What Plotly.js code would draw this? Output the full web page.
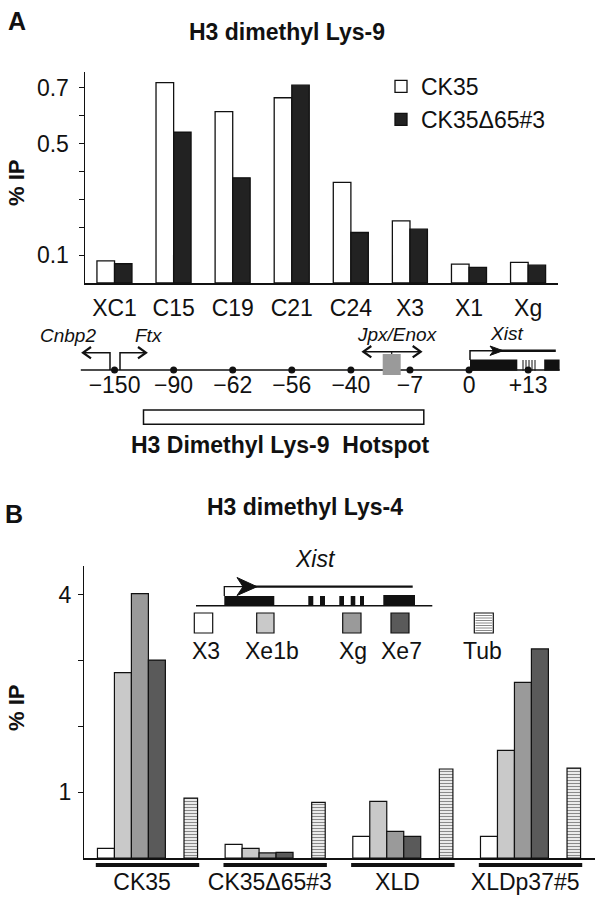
<!DOCTYPE html>
<html><head><meta charset="utf-8">
<script src="https://cdn.plot.ly/plotly-3.0.1.min.js"></script>
<style>html,body{margin:0;padding:0;background:#fff}</style>
</head><body><div id="chart" style="width:600px;height:903px"></div>
<script>
// ---------- Panel A data ----------
const catsA = ['XC1','C15','C19','C21','C24','X3','X1','Xg'];
const ck35A = [0.079,0.718,0.614,0.664,0.361,0.223,0.068,0.074];
const delA  = [0.069,0.541,0.377,0.709,0.181,0.193,0.056,0.064];
const seriesA = ['CK35','CK35\u039465#3'];
const mapLabels = ['\u2212150','\u221290','\u221262','\u221256','\u221240','\u22127','0','+13'];
const yTickValsA = [0.1,0.2,0.3,0.4,0.5,0.6,0.7];
const yTickTextA = ['0.1','','','','0.5','','0.7'];
// ---------- Panel B data ----------
const cellLines = ['CK35','CK35\u039465#3','XLD','XLDp37#5'];
const probes = ['X3','Xe1b','Xg','Xe7','Tub'];
const x3B   = [0.149,0.210,0.331,0.331];
const xe1bB = [2.82,0.149,0.863,1.638];
const xgB   = [4.02,0.078,0.407,2.672];
const xe7B  = [3.01,0.088,0.331,3.18];
const tubB  = [0.913,0.848,1.354,1.369];
const yTickValsB = [1,2,3,4];
const yTickTextB = ['1','','','4'];

const W=600,H=903;
const px=x=>x/W, py=y=>1-y/H;
const FONT='"Liberation Sans", Arial, Helvetica, sans-serif';
const INK='#111';

const traces=[];
// Panel A bars
traces.push({type:'bar',x:catsA,y:ck35A,name:seriesA[0],xaxis:'x',yaxis:'y',
  offset:-0.298,width:0.298,marker:{color:'#ffffff',line:{color:INK,width:1.3}},legendgroup:'a'});
traces.push({type:'bar',x:catsA,y:delA,name:seriesA[1],xaxis:'x',yaxis:'y',
  offset:0,width:0.295,marker:{color:'#222222',line:{color:INK,width:1.3}},legendgroup:'b'});
// Panel A map dots
traces.push({type:'scatter',x:catsA,y:catsA.map(()=>0),xaxis:'x',yaxis:'y3',mode:'markers+text',
  text:mapLabels,textposition:'bottom center',textfont:{size:23,color:INK},
  marker:{size:7,color:INK},showlegend:false,cliponaxis:false,hoverinfo:'skip'});
// Panel B bars
const seriesB=[x3B,xe1bB,xgB,xe7B,tubB];
const colB=['#ffffff','#c9c9c9','#9a9a9a','#5a5a5a','#ffffff'];
const offB=[-0.397,-0.264,-0.131,0.002,0.281];
const widB=[0.133,0.133,0.133,0.133,0.106];
probes.forEach((p,i)=>{
  const m={color:colB[i],line:{color:INK,width:1.2}};
  if(p==='Tub') m.pattern={shape:'-',fgcolor:'#8a8a8a',bgcolor:'#ffffff',size:3,solidity:0.45};
  traces.push({type:'bar',x:cellLines,y:seriesB[i],name:p,xaxis:'x2',yaxis:'y2',
    offset:offB[i],width:widB[i],marker:m,showlegend:false});
});

// ---------- decorations ----------
const shapes=[];
const L=(x0,y0,x1,y1,w,c)=>shapes.push({type:'line',xref:'paper',yref:'paper',x0:px(x0),y0:py(y0),x1:px(x1),y1:py(y1),line:{color:c||INK,width:w||1.5}});
const R=(x0,y0,x1,y1,fill,lw,lc)=>shapes.push({type:'rect',xref:'paper',yref:'paper',x0:px(x0),y0:py(y0),x1:px(x1),y1:py(y1),fillcolor:fill,line:{color:lc||INK,width:lw===undefined?0:lw}});
const P=(pts,fill,w,close)=>{const d=pts.map((p,i)=>(i?'L':'M')+px(p[0])+','+py(p[1])).join(' ')+(close?' Z':'');
  shapes.push({type:'path',xref:'paper',yref:'paper',path:d,fillcolor:fill||'rgba(0,0,0,0)',line:{color:INK,width:w===undefined?1.5:w}});};

// map line
L(80.8,370,559.6,370,1.5);
// Cnbp2 / Ftx divergent arrows
P([[110,370],[110,352.7],[83,352.7]],null,1.5);
P([[91,347],[83,352.7],[91,358.4]],null,2.2);
P([[120,370],[120,352.7],[146,352.7]],null,1.5);
P([[138,347],[146,352.7],[138,358.4]],null,2.2);
// Jpx/Enox
L(363.3,351.7,420.7,351.7,1.5);
P([[371.3,346],[363.3,351.7],[371.3,357.4]],null,2.2);
P([[412.7,346],[420.7,351.7],[412.7,357.4]],null,2.2);
L(391.7,351.7,391.7,354.5,1.2);
R(382.7,354,400.7,375,'#9a9a9a',0);
// Xist (panel A)
R(470,359.5,517.3,370.7,INK,0);
[523,526,529,532,535].forEach(x=>L(x,360,x,370.7,1));
R(544.2,359.5,559.6,370.7,INK,0);
P([[470,360],[470,350.7],[500,350.7]],null,1.5);
L(500,350.7,555.8,350.7,2.5);
P([[490,346],[503,350.7],[490,355.4],[493.5,350.7]],INK,1,true);
// Hotspot box
R(143.5,410,423.8,424.3,'#ffffff',1.5);

// Xist gene (panel B)
L(196,605.7,432.3,605.7,1.5);
R(224.3,596,274.3,605.7,INK,0);
[[308.3,313.3],[320,325],[339.3,344],[350.7,355.3],[360,364]].forEach(e=>R(e[0],596,e[1],605.7,INK,0));
R(383.3,595,415,605.7,INK,0);
P([[224.3,596],[224.3,586.7],[245,586.7]],null,1.3);
L(245,586.7,412.7,586.7,2.2);
P([[237,577.5],[257,586.7],[237,595.5],[243,586.7]],INK,1,true);
// Panel B legend squares
const sqX=[[194.3,212.7],[256.7,274],[342.7,361],[391,409],[474.3,493.3]];
sqX.forEach((s,i)=>{
  R(s[0],613,s[1],633,colB[i],1.2);
  if(probes[i]==='Tub'){for(let y=615.5;y<632;y+=2.5)L(s[0]+1.2,y,s[1]-1.2,y,1,'#8a8a8a');}
});
// group underlines (panel B)
cellLines.forEach((c,i)=>shapes.push({type:'line',xref:'x2',yref:'paper',x0:i-0.41,x1:i+0.40,y0:py(865),y1:py(865),line:{color:INK,width:4}}));

// ---------- text ----------
const ann=[];
const T=(x,y,text,size,extra)=>ann.push(Object.assign({xref:'paper',yref:'paper',x:px(x),y:py(y),text:text,showarrow:false,
  xanchor:'center',yanchor:'middle',font:{size:size,color:INK,family:FONT}},extra||{}));
T(17,21,'<b>A</b>',25);
T(286.5,32,'<b>H3 dimethyl Lys-9</b>',23);
T(16,183,'<b>% IP</b>',22,{textangle:-90});
T(68,335,'<i>Cnbp2</i>',19);
T(149,335,'<i>Ftx</i>',19);
T(397,334,'<i>Jpx/Enox</i>',19);
T(506,333,'<i>Xist</i>',19);
T(280.8,445,'<b>H3 Dimethyl Lys-9 \u00a0Hotspot</b>',23);
T(14,514,'<b>B</b>',25);
T(305,507,'<b>H3 dimethyl Lys-4</b>',23);
T(16,708,'<b>% IP</b>',22,{textangle:-90});
T(315.5,559,'<i>Xist</i>',23);
const legBX=[205.8,271.7,353.3,401,482];
probes.forEach((p,i)=>T(legBX[i],651,p,23));

const layout={
  width:W,height:H,margin:{l:0,r:0,t:0,b:0},paper_bgcolor:'#fff',plot_bgcolor:'rgba(0,0,0,0)',
  font:{family:FONT,color:INK,size:23},barmode:'overlay',showlegend:true,
  legend:{x:px(381),y:py(65),xanchor:'left',yanchor:'top',bgcolor:'rgba(0,0,0,0)',font:{size:23},tracegroupgap:0,itemwidth:30},
  xaxis:{domain:[px(85),px(557.7)],anchor:'y',type:'category',categoryarray:catsA,range:[-0.5,7.5],
    showline:true,linecolor:INK,linewidth:1.5,ticks:'',tickfont:{size:23},ticklabelstandoff:4,showgrid:false,zeroline:false,fixedrange:true},
  yaxis:{domain:[py(283),py(72.1)],anchor:'x',range:[0,0.756],showline:true,linecolor:INK,linewidth:1.5,
    ticks:'outside',ticklen:5,tickcolor:INK,tickvals:yTickValsA,ticktext:yTickTextA,tickfont:{size:23},
    ticklabelstandoff:5,showgrid:false,zeroline:false,fixedrange:true},
  yaxis3:{domain:[py(400),py(340)],anchor:'x',range:[-1,1],visible:false,fixedrange:true},
  xaxis2:{domain:[px(84.3),px(595)],anchor:'y2',type:'category',categoryarray:cellLines,range:[-0.5,3.5],
    showline:true,linecolor:INK,linewidth:1.5,ticks:'',tickfont:{size:23},ticklabelshift:-6,ticklabelstandoff:3,
    showgrid:false,zeroline:false,fixedrange:true},
  yaxis2:{domain:[py(858.1),py(566)],anchor:'x2',range:[0,4.44],showline:true,linecolor:INK,linewidth:1.5,
    ticks:'outside',ticklen:5,tickcolor:INK,tickvals:yTickValsB,ticktext:yTickTextB,tickfont:{size:23},
    ticklabelstandoff:2,showgrid:false,zeroline:false,fixedrange:true},
  shapes:shapes,annotations:ann
};
Plotly.newPlot('chart',traces,layout,{staticPlot:true,displayModeBar:false});
</script></body></html>
